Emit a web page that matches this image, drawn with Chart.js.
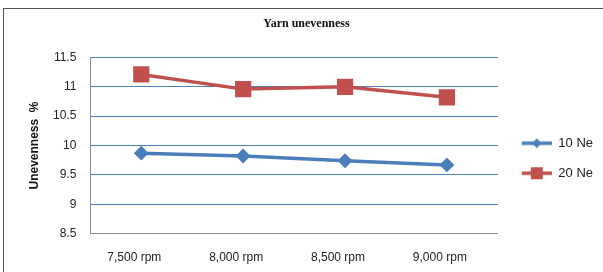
<!DOCTYPE html>
<html>
<head>
<meta charset="utf-8">
<script src="https://cdn.jsdelivr.net/npm/chart.js@4.4.1/dist/chart.umd.min.js"></script>
<style>
    html, body { margin: 0; padding: 0; background: #fff; }
    #wrap { position: relative; width: 603px; height: 272px; overflow: hidden; }
    #frame { position: absolute; left: 3px; top: 8px; width: 640px; height: 320px; border: 1.5px solid #555; }
    #chart { position: absolute; left: 0; top: 0; }
</style>
</head>
<body>
<div id="wrap">
    <div id="frame"></div>
    <canvas id="chart" width="603" height="272"></canvas>
</div>
<script>
// Data
const speeds = ['7,500 rpm', '8,000 rpm', '8,500 rpm', '9,000 rpm'];
const ne10 = [9.87, 9.82, 9.74, 9.67];
const ne20 = [11.21, 10.96, 11.0, 10.82];
const yTicks = [8.5, 9, 9.5, 10, 10.5, 11, 11.5];

const blue = '#4a7ebb';
const red = '#c0504d';
const axisGray = '#8c8c8c';

// small legend swatch: line with marker in the middle (7px blank on the left)
function legendSwatch(color, shape) {
    const c = document.createElement('canvas');
    c.width = 37;
    c.height = 14;
    const g = c.getContext('2d');
    g.strokeStyle = color;
    g.lineWidth = 3.5;
    g.beginPath();
    g.moveTo(7, 7);
    g.lineTo(37, 7);
    g.stroke();
    g.fillStyle = color;
    g.beginPath();
    if (shape === 'diamond') {
        g.moveTo(22, 2); g.lineTo(26.5, 7); g.lineTo(22, 12); g.lineTo(17.5, 7);
    } else {
        g.rect(16, 1, 12, 12);
    }
    g.closePath();
    g.fill();
    return c;
}

document.addEventListener('DOMContentLoaded', function() {
    const ctx = document.getElementById('chart').getContext('2d');
    const swatches = [legendSwatch(blue, 'diamond'), legendSwatch(red, 'square')];

    new Chart(ctx, {
        type: 'line',
        data: {
            labels: speeds,
            datasets: [{
                label: '10 Ne',
                data: ne10,
                borderColor: blue,
                backgroundColor: blue,
                borderWidth: 3.5,
                pointStyle: 'rectRot',
                pointRadius: 5,
                tension: 0
            }, {
                label: '20 Ne',
                data: ne20,
                borderColor: red,
                backgroundColor: red,
                borderWidth: 3.5,
                pointStyle: 'rect',
                pointRadius: 9,
                tension: 0
            }]
        },
        options: {
            responsive: false,
            animation: false,
            layout: {
                padding: { top: 14, left: 10, right: 0, bottom: 4 }
            },
            plugins: {
                title: {
                    display: true,
                    text: 'Yarn unevenness',
                    color: '#111',
                    font: { family: '"Liberation Serif", "DejaVu Serif", serif', size: 12, weight: 'bold' },
                    padding: { top: 3, bottom: 26 }
                },
                legend: {
                    position: 'right',
                    maxWidth: 106,
                    title: {
                        display: true,
                        text: ' ',
                        padding: 10
                    },
                    labels: {
                        usePointStyle: true,
                        pointStyleWidth: 37,
                        padding: 17,
                        color: '#222',
                        font: { family: '"Liberation Sans", Arial, sans-serif', size: 13 },
                        generateLabels: function(chart) {
                            const items = Chart.defaults.plugins.legend.labels.generateLabels(chart);
                            items.forEach((it, i) => { it.pointStyle = swatches[i]; });
                            return items;
                        }
                    }
                },
                tooltip: { enabled: false }
            },
            scales: {
                y: {
                    min: 8.5,
                    max: 11.5,
                    afterBuildTicks: function(axis) {
                        axis.ticks = yTicks.map(v => ({ value: v }));
                    },
                    title: {
                        display: true,
                        text: 'Unevenness  %',
                        color: '#111',
                        font: { family: '"Liberation Sans", Arial, sans-serif', size: 12, weight: 'bold', lineHeight: 0.75 },
                        padding: { top: 20, bottom: 0 }
                    },
                    border: { display: true, color: axisGray, width: 1 },
                    grid: {
                        drawTicks: false,
                        color: ctx => ctx.tick && ctx.tick.value === 8.5 ? axisGray : blue,
                        lineWidth: 1
                    },
                    ticks: {
                        padding: 14,
                        color: '#222',
                        font: { family: '"Liberation Sans", Arial, sans-serif', size: 12 },
                        callback: value => String(value)
                    }
                },
                x: {
                    offset: true,
                    border: { display: true, color: axisGray, width: 1 },
                    grid: { display: false, drawTicks: true, tickLength: 14 },
                    ticks: {
                        padding: 3,
                        labelOffset: -7,
                        color: '#222',
                        font: { family: '"Liberation Sans", Arial, sans-serif', size: 12 }
                    }
                }
            }
        }
    });
});
</script>
</body>
</html>
